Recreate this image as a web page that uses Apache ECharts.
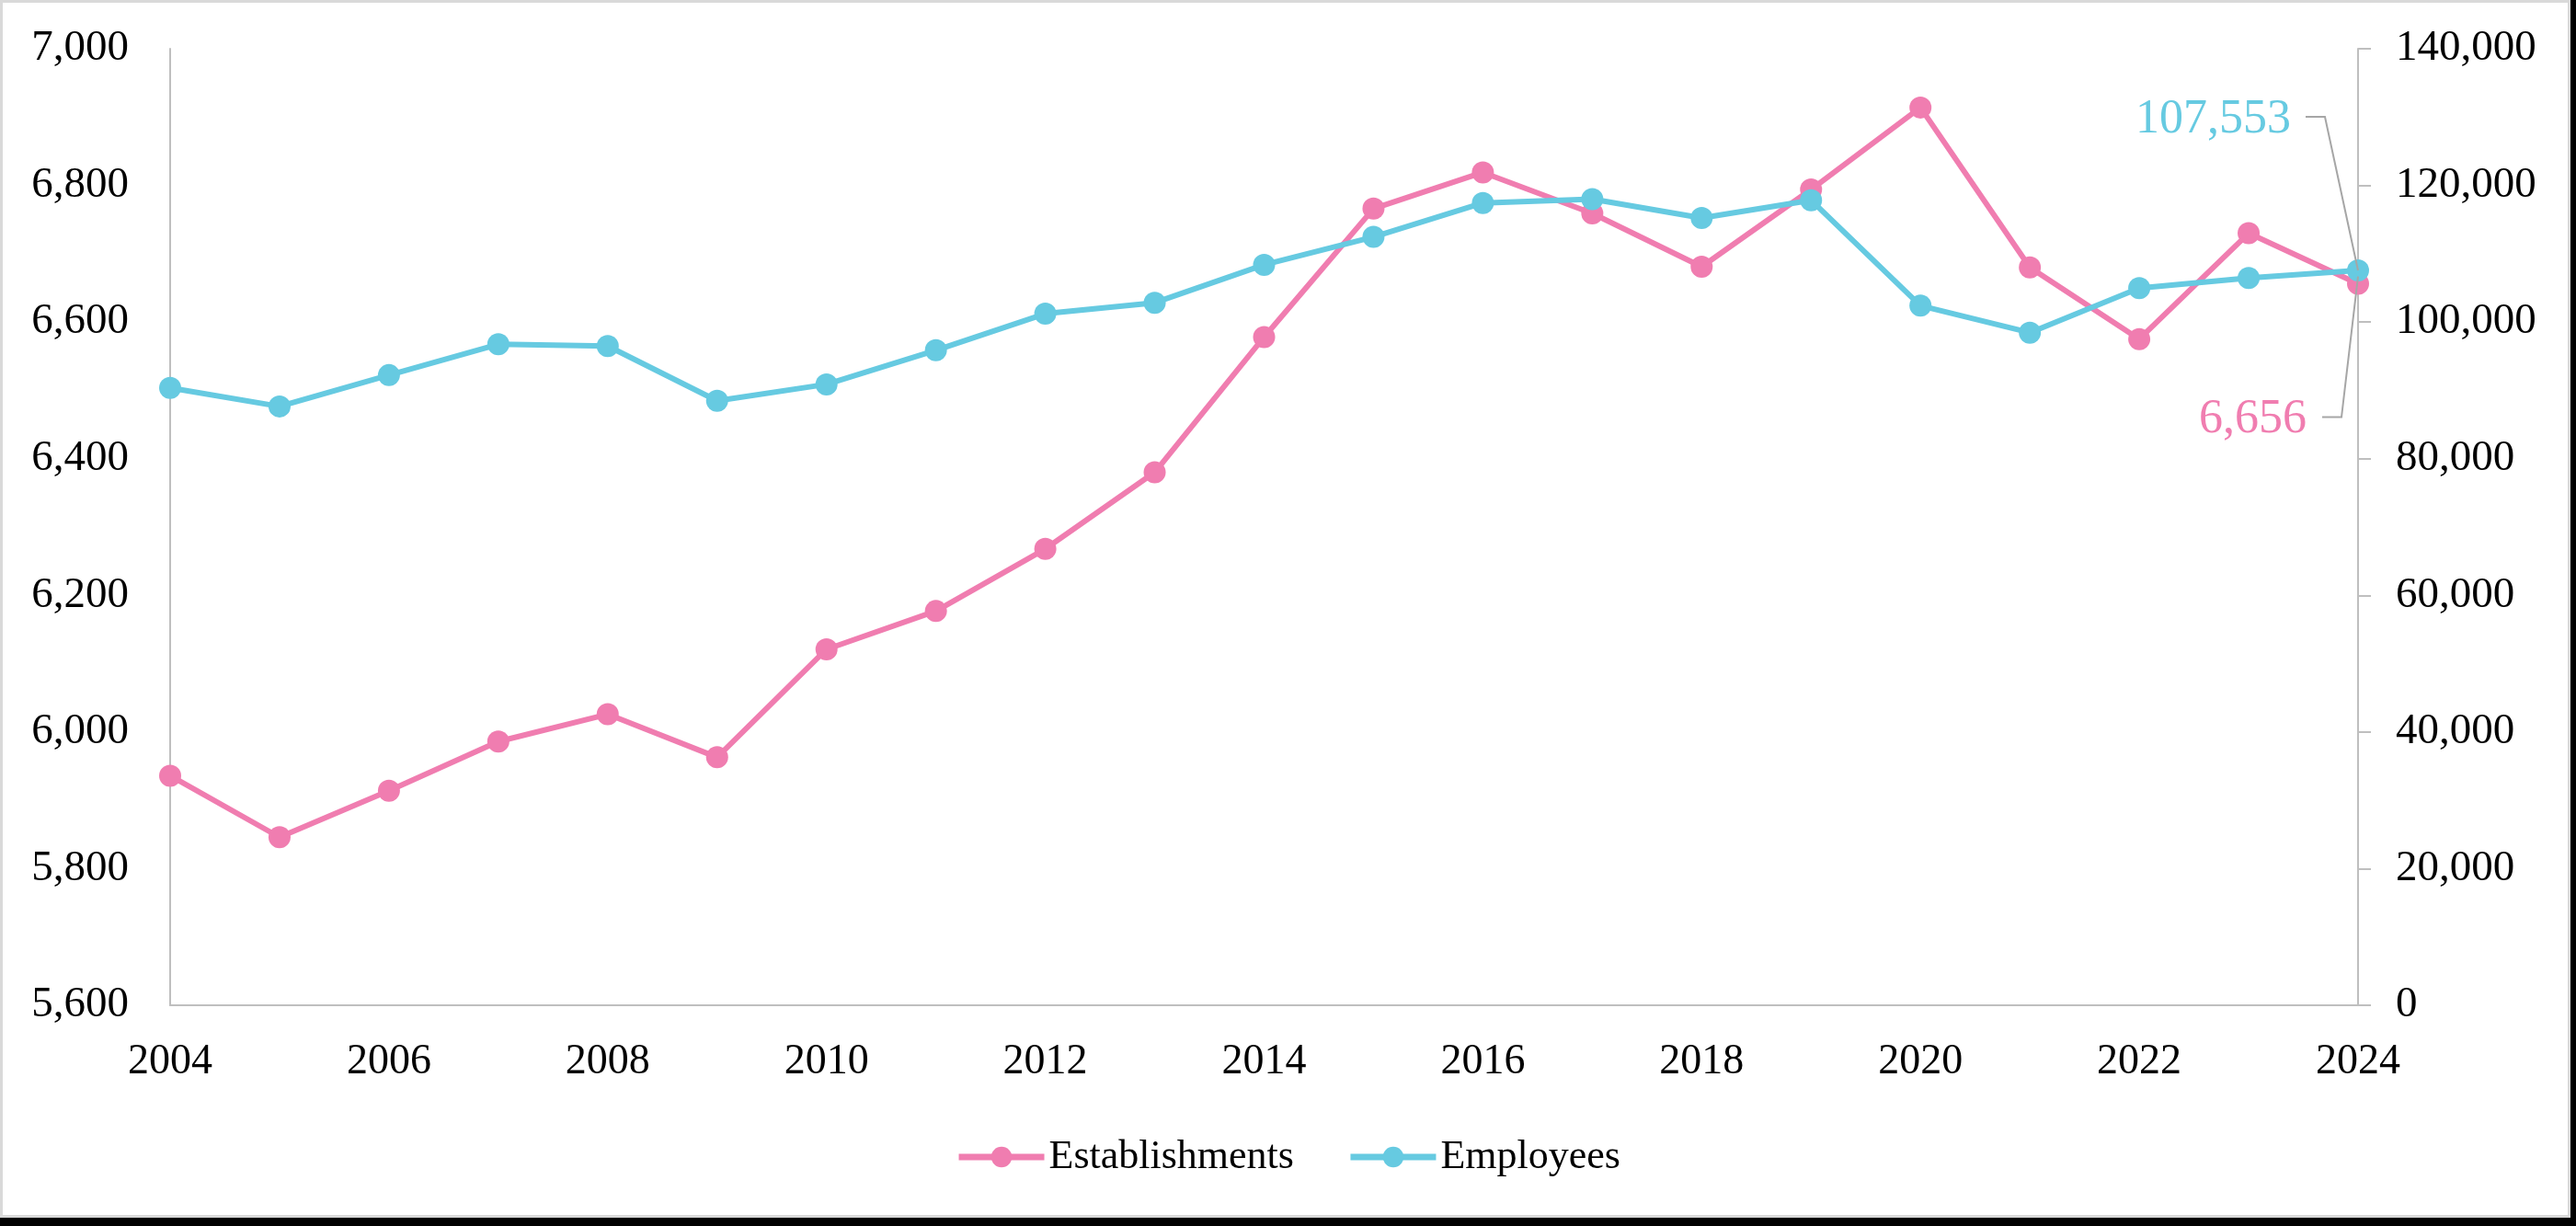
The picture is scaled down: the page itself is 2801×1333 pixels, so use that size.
<!DOCTYPE html>
<html>
<head>
<meta charset="utf-8">
<script src="https://cdn.jsdelivr.net/npm/echarts@6/dist/echarts.min.js"></script>
<style>
  html, body { margin: 0; padding: 0; background: #000; width: 2801px; height: 1333px; overflow: hidden; }
  #frame { position: absolute; left: 0; top: 0; width: 2795px; height: 1324px; background: #fff; border: 3px solid #d9d9d9; box-sizing: border-box; }
  #chart { position: absolute; left: 0; top: 0; width: 2801px; height: 1333px; }
</style>
</head>
<body>
<div id="frame"></div>
<div id="chart"></div>
<script>
const years = ['2004','2005','2006','2007','2008','2009','2010','2011','2012','2013','2014',
               '2015','2016','2017','2018','2019','2020','2021','2022','2023','2024'];
const establishments = [5936, 5846, 5914, 5986, 6026, 5963, 6121, 6177, 6268, 6380, 6578,
                        6766, 6819, 6759, 6681, 6794, 6914, 6680, 6575, 6730, 6656];
const employees = [90370, 87650, 92230, 96750, 96480, 88480, 90880, 95870, 101220, 102820, 108380,
                   112460, 117430, 117980, 115230, 117830, 102400, 98450, 104960, 106440, 107553];
const leftAxisRange = [5600, 7000, 200];
const rightAxisRange = [0, 140000, 20000];
const seriesNames = ['Establishments', 'Employees'];

const PINK = '#F07DB0';
const BLUE = '#66CAE1';
const AXIS = '#bfbfbf';
const FONT = '"Liberation Serif", "DejaVu Serif", serif';
const fmt = v => Number(v).toLocaleString('en-US');

const chart = echarts.init(document.getElementById('chart'), null, { renderer: 'canvas' });

chart.setOption({
  backgroundColor: 'transparent',
  animation: false,
  textStyle: { fontFamily: FONT },
  grid: { left: 185, right: 237, top: 53, bottom: 240, containLabel: false },
  legend: {
    data: seriesNames,
    left: 'center',
    top: 1225,
    itemWidth: 93,
    itemHeight: 28,
    itemGap: 58,
    lineStyle: { width: 7 },
    textStyle: { fontFamily: FONT, fontSize: 44, color: '#000', lineHeight: 56 }
  },
  xAxis: {
    type: 'category',
    data: years,
    boundaryGap: false,
    axisLine: { show: true, lineStyle: { color: AXIS, width: 2 } },
    axisTick: { show: false },
    splitLine: { show: false },
    axisLabel: { interval: 1, margin: 39, fontFamily: FONT, fontSize: 46, color: '#000' }
  },
  yAxis: [
    {
      type: 'value',
      min: leftAxisRange[0], max: leftAxisRange[1], interval: leftAxisRange[2],
      position: 'left',
      axisLine: { show: true, lineStyle: { color: AXIS, width: 2 } },
      axisTick: { show: false },
      splitLine: { show: false },
      axisLabel: { margin: 45, fontFamily: FONT, fontSize: 47, color: '#000', formatter: fmt }
    },
    {
      type: 'value',
      min: rightAxisRange[0], max: rightAxisRange[1], interval: rightAxisRange[2],
      position: 'right',
      axisLine: { show: true, lineStyle: { color: AXIS, width: 2 } },
      axisTick: { show: true, inside: false, length: 14, lineStyle: { color: AXIS, width: 2 } },
      splitLine: { show: false },
      axisLabel: { margin: 41, fontFamily: FONT, fontSize: 47, color: '#000', formatter: fmt }
    }
  ],
  series: [
    {
      name: seriesNames[0],
      type: 'line',
      yAxisIndex: 0,
      data: establishments,
      symbol: 'circle',
      symbolSize: 24,
      showSymbol: true,
      lineStyle: { color: PINK, width: 6 },
      itemStyle: { color: PINK },
      z: 2
    },
    {
      name: seriesNames[1],
      type: 'line',
      yAxisIndex: 1,
      data: employees,
      symbol: 'circle',
      symbolSize: 24,
      showSymbol: true,
      lineStyle: { color: BLUE, width: 6 },
      itemStyle: { color: BLUE },
      z: 3
    }
  ]
});

// Leader-line annotations for the last values, anchored through the chart's own scales
const last = years.length - 1;
const pEmp = chart.convertToPixel({ xAxisIndex: 0, yAxisIndex: 1 }, [last, employees[last]]);
const pEst = chart.convertToPixel({ xAxisIndex: 0, yAxisIndex: 0 }, [last, establishments[last]]);
const LEAD = '#a6a6a6';

chart.setOption({
  graphic: [
    {
      type: 'polyline', z: 100, silent: true,
      shape: { points: [[pEmp[0] - 57, pEmp[1] - 167], [pEmp[0] - 36, pEmp[1] - 167], [pEmp[0], pEmp[1]]] },
      style: { stroke: LEAD, lineWidth: 2, fill: null }
    },
    {
      type: 'text', z: 100, silent: true,
      x: pEmp[0] - 73, y: pEmp[1] - 164,
      style: { text: fmt(employees[last]), fill: BLUE, font: '52px ' + FONT, align: 'right', verticalAlign: 'middle' }
    },
    {
      type: 'polyline', z: 100, silent: true,
      shape: { points: [[pEst[0] - 39, pEst[1] + 145], [pEst[0] - 18, pEst[1] + 145], [pEst[0], pEst[1] - 8]] },
      style: { stroke: LEAD, lineWidth: 2, fill: null }
    },
    {
      type: 'text', z: 100, silent: true,
      x: pEst[0] - 56, y: pEst[1] + 148,
      style: { text: fmt(establishments[last]), fill: PINK, font: '52px ' + FONT, align: 'right', verticalAlign: 'middle' }
    }
  ]
});
</script>
</body>
</html>
